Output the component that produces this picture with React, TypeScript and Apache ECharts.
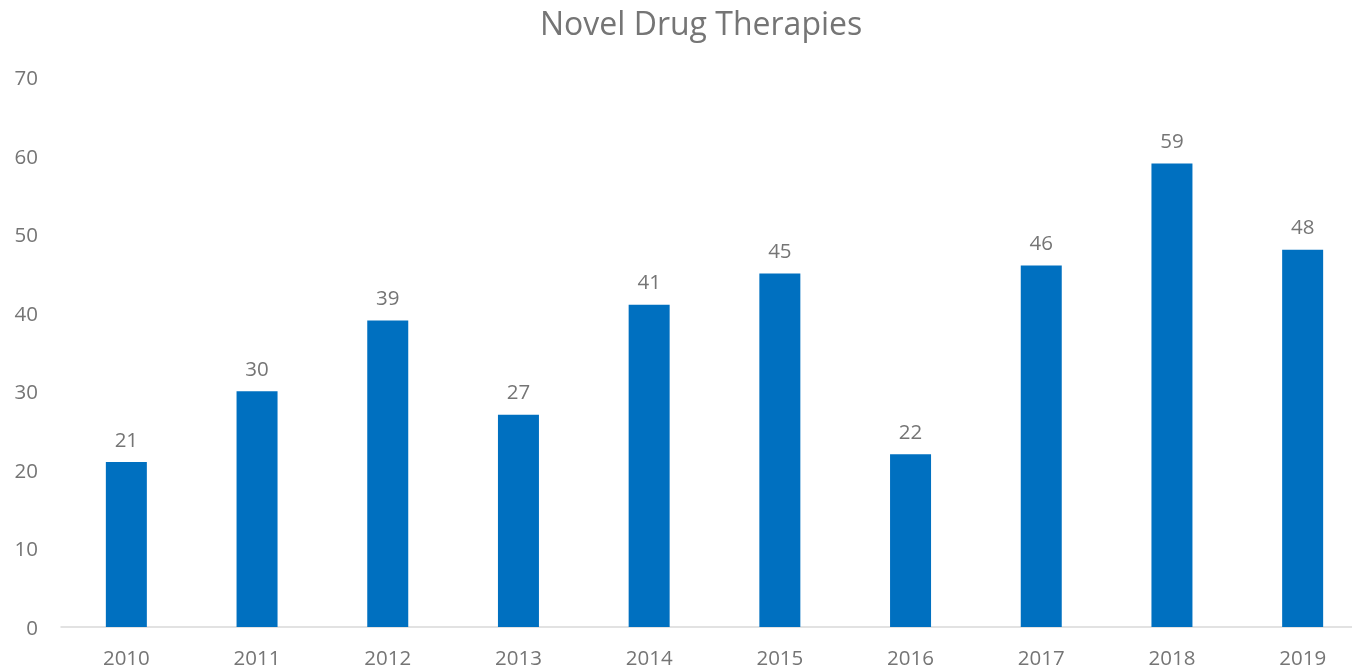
import React, { useEffect, useRef } from "react";
import * as echarts from "echarts";

const years = ["2010", "2011", "2012", "2013", "2014", "2015", "2016", "2017", "2018", "2019"];
const approvals = [21, 30, 39, 27, 41, 45, 22, 46, 59, 48];
const titleText = "Novel Drug Therapies";

export default function App() {
  const ref = useRef<HTMLDivElement>(null);
  useEffect(() => {
    const chart = echarts.init(ref.current!, undefined, { renderer: "svg" });
    const font = "'Open Sans', 'Noto Sans', sans-serif";
    chart.setOption({
      animation: false,
      title: {
        text: titleText,
        left: 535,
        top: 1,
        textStyle: { color: "#757575", fontSize: 32, fontWeight: "normal", fontFamily: font },
      },
      grid: { left: 61, right: 0, top: 77, bottom: 41 },
      xAxis: {
        type: "category",
        data: years,
        axisLine: { lineStyle: { color: "#d9d9d9", width: 1.5 } },
        axisTick: { show: false },
        axisLabel: { color: "#757575", fontSize: 20.5, fontFamily: font, margin: 19 },
      },
      yAxis: {
        type: "value",
        min: 0,
        max: 70,
        interval: 10,
        splitLine: { show: false },
        axisLine: { show: false },
        axisTick: { show: false },
        axisLabel: { color: "#757575", fontSize: 20.5, fontFamily: font, margin: 23, align: "right" },
      },
      series: [
        {
          type: "bar",
          data: approvals,
          barWidth: 41,
          itemStyle: { color: "#0070C0" },
          label: {
            show: true,
            position: "top",
            distance: 13,
            color: "#757575",
            fontSize: 20.5,
            fontFamily: font,
          },
        },
      ],
    });
    return () => chart.dispose();
  }, []);
  return (
    <div style={{ position: "fixed", left: 0, top: 0, width: 1352, height: 668, overflow: "hidden" }}>
      <div ref={ref} style={{ width: 1368, height: 668 }} />
    </div>
  );
}
